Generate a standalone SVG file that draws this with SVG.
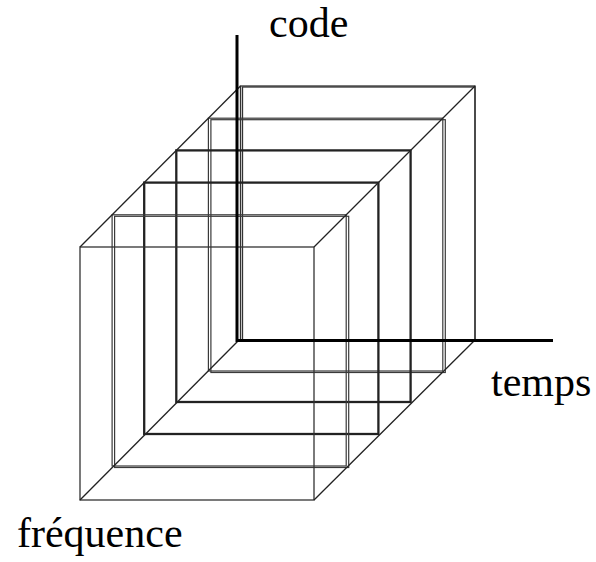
<svg xmlns="http://www.w3.org/2000/svg" width="596" height="562" viewBox="0 0 596 562">
<style>
.face{fill:none;stroke:#333;stroke-width:1.3}
.slabA{fill:none;stroke:#3a3a3a;stroke-width:1.2}
.slabB{fill:none;stroke:#222;stroke-width:2.3}
.edge{fill:none;stroke:#222;stroke-width:1.3}
.axis{fill:none;stroke:#000;stroke-width:3}
.lbl{font-family:"Liberation Serif","Times New Roman",serif;font-size:42px;fill:#000}
</style>
<rect width="596" height="562" fill="#fff"/>
<g id="plane-back"><rect class="face" x="240.5" y="86" width="234.5" height="254"/><rect class="face" x="242.5" y="87" width="232.5" height="253"/></g>
<g id="plane-4"><rect class="slabA" x="208.4" y="118.2" width="234.4" height="252.8"/><rect class="slabA" x="210.9" y="119.7" width="234.4" height="252.8"/></g>
<g id="plane-3"><rect class="slabB" x="176.3" y="150.4" width="234.3" height="251.6"/></g>
<g id="plane-2"><rect class="slabB" x="144.2" y="182.6" width="234.2" height="251.4"/></g>
<g id="plane-1"><rect class="slabA" x="112.1" y="214.8" width="234.1" height="251.2"/><rect class="slabA" x="114.6" y="216.3" width="234.1" height="251.2"/></g>
<g id="plane-front"><rect class="face" x="80" y="247" width="234" height="253"/></g>
<g id="connectors">
<line class="edge" x1="80" y1="247" x2="240.5" y2="86"/>
<line class="edge" x1="314" y1="247" x2="475" y2="86"/>
<line class="edge" x1="80" y1="500" x2="238" y2="341"/>
<line class="edge" x1="314" y1="500" x2="475" y2="340"/>
<polyline class="axis" points="237,35 237,340.5 553,340.5"/>
</g>
<g id="labels">
<text class="lbl" x="269" y="37">code</text>
<text class="lbl" x="491" y="396">temps</text>
<text class="lbl" x="17" y="547">fréquence</text>
</g>
</svg>
